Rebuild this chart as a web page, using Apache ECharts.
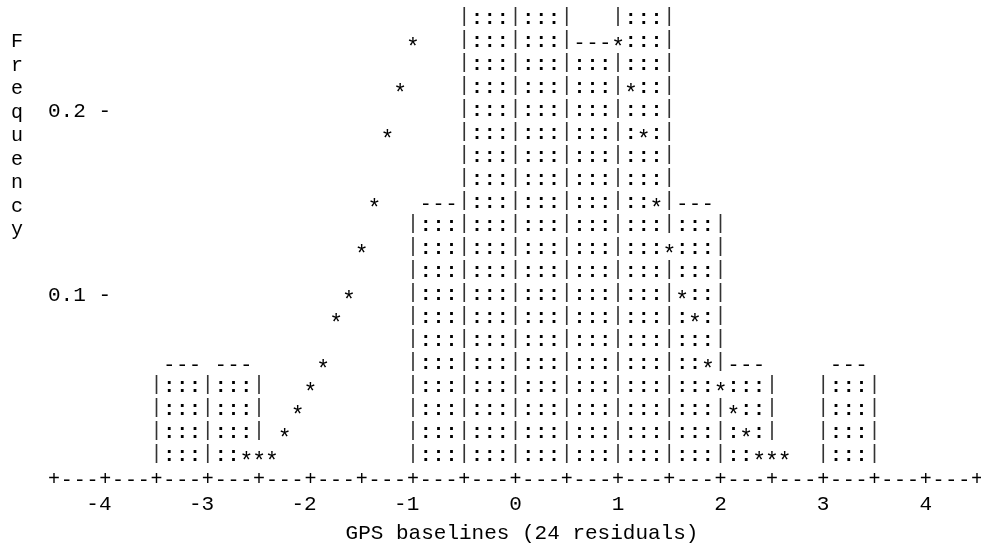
<!DOCTYPE html>
<html>
<head>
<meta charset="utf-8">
<script src="https://cdn.jsdelivr.net/npm/echarts@6/dist/echarts.min.js"></script>
<style>
html,body{margin:0;padding:0;background:#fff;}
#chart{width:981px;height:550px;}
</style>
</head>
<body>
<div id="chart"></div>
<script>
// ---- data ----
// histogram bins (width 0.5), value = level of the bar's top line (density scale)
var binStarts = [-3.5, -3.0, -2.5, -2.0, -1.5, -1.0, -0.5, 0.0, 0.5, 1.0, 1.5, 2.0, 2.5, 3.0];
var binHeights = [0.0625, 0.0625, 0, 0, 0, 0.15, 0.325, 0.4125, 0.2375, 0.325, 0.15, 0.0625, 0, 0.0625];
var binWidth = 0.5;
// fitted normal curve (stars)
var curveX = [-2.625, -2.5, -2.375, -2.25, -2.125, -2.0, -1.875, -1.75, -1.625, -1.5, -1.375, -1.25, -1.125, -1.0,
              1.0, 1.125, 1.25, 1.375, 1.5, 1.625, 1.75, 1.875, 2.0, 2.125, 2.25, 2.375, 2.5, 2.625];
var curveY = [0.0125, 0.0125, 0.0125, 0.025, 0.0375, 0.05, 0.0625, 0.0875, 0.1, 0.125, 0.15, 0.1875, 0.2125, 0.2375,
              0.2375, 0.2125, 0.1875, 0.15, 0.125, 0.1, 0.0875, 0.0625, 0.05, 0.0375, 0.025, 0.0125, 0.0125, 0.0125];
// axis ticks / labels
var xTickValues = [-4, -3, -2, -1, 0, 1, 2, 3, 4];
var xTickLabels = ['-4', '-3', '-2', '-1', '0', '1', '2', '3', '4'];
var yTickValues = [0.1, 0.2];
var yTickLabels = ['0.1 -', '0.2 -'];
var xTitle = 'GPS baselines (24 residuals)';
var yTitle = 'Frequency';

// ---- character-cell layout (text plot resolution) ----
var XMIN = -4.5, XMAX = 4.5, YMAX = 0.25;
var colStep = 0.125;   // data units per character column
var rowStep = 0.0125;  // data units per text row
var nCols = Math.round((XMAX - XMIN) / colStep); // 72
var nRows = Math.round(YMAX / rowStep);          // 20 rows above axis
var grid = [];
for (var r = 0; r <= nRows; r++) { grid.push([]); for (var c = 0; c <= nCols; c++) grid[r].push(' '); }
function rowLevel(r) { return (nRows - r) * rowStep; }
function colOf(x) { return Math.round((x - XMIN) / colStep); }
var eps = 1e-9;
binStarts.forEach(function (s, i) {
  var h = binHeights[i];
  if (h <= 0) return;
  var c0 = colOf(s), c1 = colOf(s + binWidth);
  for (var r = 0; r < nRows; r++) {
    var lv = rowLevel(r);
    if (lv < h - eps) {
      grid[r][c0] = '|'; grid[r][c1] = '|';
      for (var c = c0 + 1; c < c1; c++) grid[r][c] = ':';
    } else if (Math.abs(lv - h) < eps) {
      for (var c = c0 + 1; c < c1; c++) grid[r][c] = '-';
    }
  }
});
curveX.forEach(function (x, i) {
  var r = nRows - Math.round(curveY[i] / rowStep);
  if (r >= 0 && r < nRows) grid[r][colOf(x)] = '*';
});
for (var c = 0; c <= nCols; c++) grid[nRows][c] = (c % 4 === 0) ? '+' : '-';

var cellData = [], cellChars = [];
for (var r = 0; r <= nRows; r++) for (var c = 0; c <= nCols; c++) {
  if (grid[r][c] !== ' ') { cellData.push([XMIN + c * colStep, rowLevel(r)]); cellChars.push(grid[r][c]); }
}

// glyph placement corrections (Courier-like placement inside a text cell)
var glyphDy = { '*': 7, '-': 1.5, '+': 1, '|': -2, ':': 0 };
var glyphSize = { '*': 23 };

var FONT = '"Liberation Mono", "Courier New", monospace';
var chart = echarts.init(document.getElementById('chart'), null, { renderer: 'canvas' });
chart.setOption({
  animation: false,
  backgroundColor: '#fff',
  title: {
    text: yTitle.split('').join('\n'),
    left: 11, top: 30, padding: 0,
    textStyle: { fontFamily: FONT, fontSize: 20, fontWeight: 'normal', color: '#000', lineHeight: 23.5 }
  },
  grid: { left: 54, right: 4, top: 19, bottom: 61, containLabel: false },
  xAxis: {
    type: 'value', min: XMIN, max: XMAX, interval: 0.5,
    axisLine: { show: false }, axisTick: { show: false }, splitLine: { show: false },
    axisLabel: {
      margin: 14, fontFamily: FONT, fontSize: 21, color: '#000', lineHeight: 23.5,
      formatter: function (v) {
        for (var i = 0; i < xTickValues.length; i++) {
          if (Math.abs(v - xTickValues[i]) < 1e-6) {
            var t = xTickLabels[i];
            return t.charAt(0) === '-' ? t + ' ' : t;
          }
        }
        return '';
      }
    },
    name: xTitle, nameLocation: 'middle', nameGap: 39,
    nameTextStyle: { fontFamily: FONT, fontSize: 21, color: '#000', lineHeight: 23.5, padding: [0, 0, 0, 13] }
  },
  yAxis: {
    type: 'value', min: 0, max: YMAX, interval: 0.1,
    axisLine: { show: false }, axisTick: { show: false }, splitLine: { show: false },
    axisLabel: {
      inside: true, margin: -6, fontFamily: FONT, fontSize: 21, color: '#000', align: 'left',
      formatter: function (v) {
        for (var i = 0; i < yTickValues.length; i++) {
          if (Math.abs(v - yTickValues[i]) < 1e-6) return yTickLabels[i];
        }
        return '';
      }
    }
  },
  series: [{
    type: 'custom',
    coordinateSystem: 'cartesian2d',
    data: cellData,
    encode: { x: 0, y: 1 },
    silent: true,
    clip: false,
    renderItem: function (params, api) {
      var p = api.coord([api.value(0), api.value(1)]);
      var ch = cellChars[params.dataIndex];
      var weight = (ch === ':') ? 'bold ' : '';
      var color = (ch === '|') ? '#333' : '#000';
      var size = glyphSize[ch] || 20;
      return {
        type: 'text', x: p[0], y: p[1] + (glyphDy[ch] || 0),
        style: { text: ch, fill: color, font: weight + size + 'px ' + FONT, align: 'center', verticalAlign: 'middle' }
      };
    }
  }]
});
</script>
</body>
</html>
